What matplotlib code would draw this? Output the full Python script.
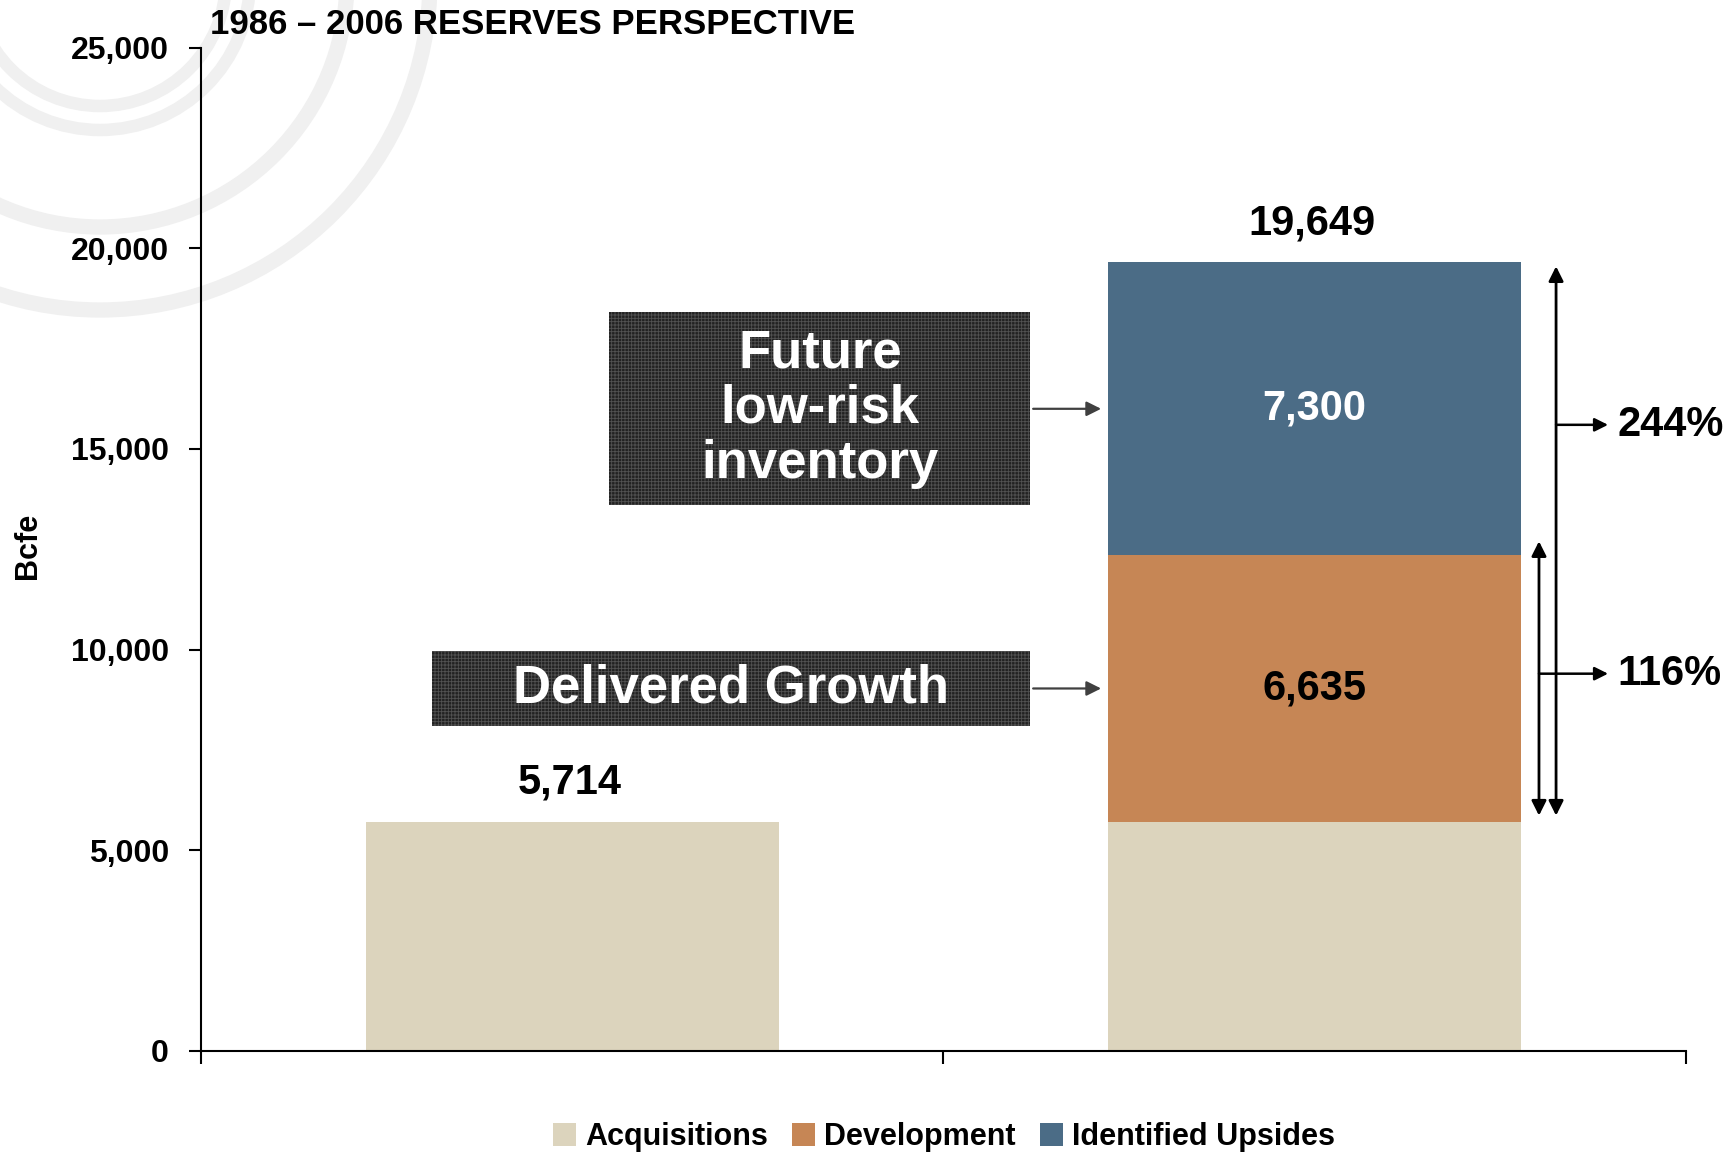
import matplotlib.pyplot as plt
from matplotlib.patches import Rectangle, Circle, Patch

# data (Bcfe)
categories = ["1986", "2006"]
acquisitions = [5714, 5714]
development = [0, 6635]
upsides = [0, 7300]
series_names = ["Acquisitions", "Development", "Identified Upsides"]
yticks = [0, 5000, 10000, 15000, 20000, 25000]

colors = ["#DCD4BD", "#C68655", "#4B6C86"]

plt.rcParams["font.family"] = ["Liberation Sans", "DejaVu Sans"]
plt.rcParams["font.weight"] = "bold"
plt.rcParams["hatch.linewidth"] = 0.6

W, H = 1731, 1155
fig = plt.figure(figsize=(W / 100, H / 100), dpi=100)

# faint watermark rings in the top-left corner
bg = fig.add_axes([0, 0, 1, 1], zorder=0)
bg.set_xlim(0, W)
bg.set_ylim(H, 0)
bg.axis("off")
for r, lw in [(126, 9), (150, 9), (247, 11), (330, 11)]:
    bg.add_patch(Circle((100, -20), r, fill=False, ec="#f0f0f0", lw=lw))

ax = fig.add_axes([201 / W, 104 / H, 1485 / W, 1003.5 / H], zorder=1)
ax.patch.set_alpha(0)

x = [0, 1]
bw = 0.556
bottom_dev = acquisitions
bottom_ups = [a + d for a, d in zip(acquisitions, development)]
totals = [a + d + u for a, d, u in zip(acquisitions, development, upsides)]

ax.bar(x, acquisitions, bw, color=colors[0], zorder=2)
ax.bar(x, development, bw, bottom=bottom_dev, color=colors[1], zorder=2)
ax.bar(x, upsides, bw, bottom=bottom_ups, color=colors[2], zorder=2)

# totals above bars
for xi, t in zip(x, totals):
    ax.annotate(f"{t:,}", (xi, t), xytext=(-2, 28), textcoords="offset points",
                ha="center", va="center", fontsize=30, fontweight="bold")

# segment labels
for xi, d, b in zip(x, development, bottom_dev):
    if d:
        ax.text(xi, b + d / 2, f"{d:,}", ha="center", va="center",
                fontsize=30, fontweight="bold", color="black", zorder=3)
for xi, u, b in zip(x, upsides, bottom_ups):
    if u:
        ax.text(xi, b + u / 2, f"{u:,}", ha="center", va="center",
                fontsize=30, fontweight="bold", color="white", zorder=3)

# dark callout boxes
left_edge = x[1] - bw / 2
boxes = [
    ((0.05, 13610), 0.567, 4790, "Future\nlow-risk\ninventory",
     bottom_ups[1] + upsides[1] / 2),
    ((-0.189, 8090), 0.806, 1870, "Delivered Growth",
     bottom_dev[1] + development[1] / 2),
]
for (bx, by), bwid, bh, label, ay in boxes:
    ax.add_patch(Rectangle((bx, by), bwid, bh, facecolor="#222222",
                           edgecolor="#525252", hatch="+++++", lw=0, zorder=3))
    ax.text(bx + bwid / 2, by + bh / 2, label, ha="center", va="center",
            fontsize=38, fontweight="bold", color="white", linespacing=1.13,
            zorder=4)
    ax.annotate("", xy=(left_edge - 0.006, ay), xytext=(bx + bwid, ay),
                arrowprops=dict(arrowstyle="-|>", color="#404040", lw=1.6,
                                mutation_scale=22), zorder=4)

# growth arrows on the right
top_total = totals[1]
top_dev = bottom_ups[1]
base = acquisitions[1]
ax.annotate("", xy=(1.325, top_total - 100), xytext=(1.325, base + 150),
            arrowprops=dict(arrowstyle="<|-|>", color="black", lw=2,
                            mutation_scale=22, shrinkA=0, shrinkB=0))
ax.annotate("", xy=(1.302, top_dev + 350), xytext=(1.302, base + 150),
            arrowprops=dict(arrowstyle="<|-|>", color="black", lw=2,
                            mutation_scale=22, shrinkA=0, shrinkB=0))
pct_total = round((top_total / base - 1) * 100)
pct_dev = round((top_dev / base - 1) * 100)
for xs, yy, pct in [(1.325, 15600, pct_total), (1.302, 9400, pct_dev)]:
    ax.annotate("", xy=(1.395, yy), xytext=(xs, yy),
                arrowprops=dict(arrowstyle="-|>", color="black", lw=1.8,
                                mutation_scale=20, shrinkA=0, shrinkB=0))
    ax.text(1.408, yy, f"{pct}%", ha="left", va="center", fontsize=30,
            fontweight="bold", clip_on=False)

# axes styling
ax.set_xlim(-0.5, 1.5)
ax.set_ylim(0, 25000)
ax.set_yticks(yticks)
ax.set_yticklabels([f"{v:,}" for v in yticks], fontsize=23, fontweight="bold")
ax.set_xticks([-0.5, 0.5, 1.5])
ax.set_xticklabels([])
ax.tick_params(axis="both", direction="out", length=9, width=1.5, pad=14)
for s in ["top", "right"]:
    ax.spines[s].set_visible(False)
for s in ["left", "bottom"]:
    ax.spines[s].set_linewidth(1.5)

fig.text(28 / W, 1 - 546 / H, "Bcfe", rotation=90, ha="center", va="center",
         fontsize=22, fontweight="bold")
fig.text(210 / W, 1 - 25 / H, "1986 \u2013 2006 RESERVES PERSPECTIVE",
         ha="left", va="center", fontsize=25, fontweight="bold")

handles = [Patch(facecolor=c, edgecolor="none") for c in colors]
fig.legend(handles, series_names, loc="center", ncol=3,
           bbox_to_anchor=(944 / W, 1 - 1137 / H), frameon=False,
           prop=dict(size=22, weight="bold"), handlelength=0.75,
           handleheight=0.75, handletextpad=0.3, columnspacing=0.8)

fig.savefig("out.png", dpi=100)
